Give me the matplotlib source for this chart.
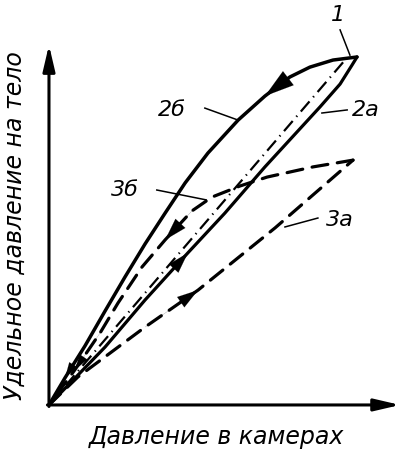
import matplotlib
matplotlib.use("Agg")
import matplotlib.pyplot as plt
import numpy as np

# Data (relative units, origin of the diagram at 0,0)
# curve 2a - loading branch (solid)
x_2a = [0, 1.82, 3.12, 4.51, 5.71, 7.01, 8.80, 9.45, 9.84, 10.0]
y_2a = [0, 1.88, 3.41, 4.94, 6.23, 7.73, 9.68, 10.42, 11.04, 11.30]
# curve 2б - unloading branch (solid), from the peak back to zero
x_2b = [10.0, 9.22, 8.47, 7.82, 7.01, 6.14, 5.16, 4.42, 3.77, 3.12, 2.47, 1.82, 1.17, 0.52, 0]
y_2b = [11.30, 11.20, 10.97, 10.65, 10.03, 9.25, 8.18, 7.21, 6.23, 5.23, 4.16, 3.05, 1.92, 0.88, 0]
# curve 1 - dash-dot
x_1 = [0, 9.61]
y_1 = [0, 11.20]
# curve 3a - loading (dashed)
x_3a = [0, 0.94, 3.12, 4.84, 7.34, 9.87]
y_3a = [0, 0.91, 2.53, 3.73, 5.75, 7.95]
# curve 3б - unloading (dashed)
x_3b = [9.87, 8.57, 7.08, 6.20, 5.29, 4.64, 3.77, 3.02, 2.24, 1.66, 0.84, 0]
y_3b = [7.95, 7.73, 7.40, 7.11, 6.75, 6.30, 5.36, 4.48, 3.31, 2.34, 1.14, 0]

xlabel = "Давление в камерах"
ylabel = "Удельное давление на тело"

plt.rcParams['font.family'] = ['DejaVu Sans']

fig = plt.figure(figsize=(4.06, 4.49), dpi=100)
ax = fig.add_axes([0, 0, 1, 1])
ax.set_xlim(-1.59, 11.59)
ax.set_ylim(-1.43, 13.15)
ax.axis("off")

# axes with arrows
axprops = dict(arrowstyle="-|>,head_length=1.2,head_width=0.28", color="k",
               lw=2.2, shrinkA=0, shrinkB=0, mutation_scale=13)
ax.annotate("", xy=(11.4, 0), xytext=(-0.05, 0), arrowprops=axprops)
ax.annotate("", xy=(0, 11.69), xytext=(0, -0.05), arrowprops=axprops)

# curves
ax.plot(x_2a, y_2a, color="k", lw=2.3, solid_capstyle="round", solid_joinstyle="round")
ax.plot(x_2b, y_2b, color="k", lw=2.5, solid_capstyle="round", solid_joinstyle="round")
ax.plot(x_1, y_1, color="k", lw=1.6, linestyle=(0, (6, 2.5, 0.6, 2.5)))
ax.plot(x_3a, y_3a, color="k", lw=2.3, linestyle=(0, (5, 3)), dash_capstyle="round")
ax.plot(x_3b, y_3b, color="k", lw=2.3, linestyle=(0, (5, 3)), dash_capstyle="round")


# arrowheads along the curves
def head(xs, ys, i, size=16, width=0.3):
    ax.annotate("", xy=(xs[i + 1], ys[i + 1]), xytext=(xs[i], ys[i]),
                arrowprops=dict(arrowstyle="-|>,head_length=1.0,head_width=%s" % width,
                                color="k", lw=0.1, shrinkA=0, shrinkB=0,
                                mutation_scale=size))


head(x_2b, y_2b, 3, 21, 0.3)
head(x_3b, y_3b, 5, 16, 0.3)
head(x_2a, y_2a, 2, 15, 0.3)
head(x_3a, y_3a, 2, 15, 0.3)
head(x_2b, y_2b, 12, 11, 0.3)
head(x_3b, y_3b, 9, 11, 0.3)

# labels with leader lines
txt = dict(fontsize=16, style="italic", ha="center", va="center")
ax.text(9.38, 12.66, "1", **txt)
ax.plot([9.45, 9.77], [12.18, 11.36], color="k", lw=1.1)
ax.text(3.99, 9.58, "2б", **txt)
ax.plot([5.06, 6.14], [9.64, 9.25], color="k", lw=1.1)
ax.text(10.3, 9.58, "2а", **txt)
ax.plot([9.68, 8.86], [9.58, 9.48], color="k", lw=1.1)
ax.text(2.47, 6.98, "3б", **txt)
ax.plot([3.5, 5.1], [6.98, 6.66], color="k", lw=1.1)
ax.text(9.45, 6.0, "3а", **txt)
ax.plot([8.73, 7.66], [6.07, 5.78], color="k", lw=1.1)

txt["fontsize"] = 17
ax.text(5.45, -1.04, xlabel, **txt)
ax.text(-1.10, 5.84, ylabel, rotation=90, **txt)

fig.savefig("out.png", dpi=100)
